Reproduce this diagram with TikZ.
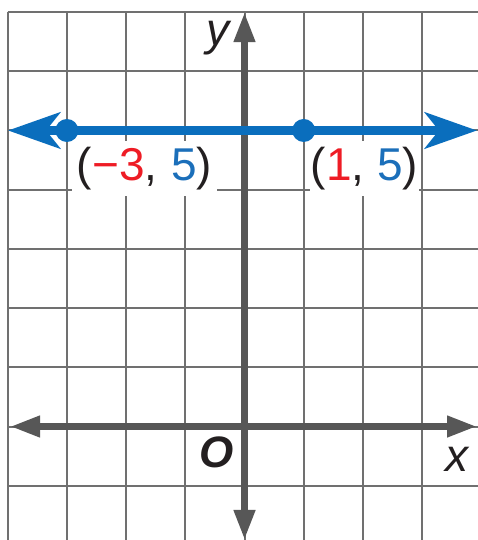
\documentclass[tikz,border=0pt]{standalone}
\usepackage{fontspec}
\setmainfont{Liberation Sans}
\usetikzlibrary{arrows.meta}
\definecolor{gridgray}{HTML}{707070}
\definecolor{axisgray}{HTML}{575757}
\definecolor{lineblue}{HTML}{0A6EBD}
\definecolor{ptred}{HTML}{EE1C25}
\definecolor{ptblue}{HTML}{1B6FBA}
\definecolor{ink}{HTML}{231F20}
\tikzset{
  gridline/.style={gridgray, line width=2pt},
  axisline/.style={axisgray, line width=7pt, -{Triangle[length=30pt,width=20pt]}},
  blueline/.style={lineblue, line width=9pt, {Stealth[length=52pt,width=36pt,inset=14pt]}-{Stealth[length=52pt,width=36pt,inset=14pt]}},
  ptdot/.style={circle, fill=lineblue, inner sep=0pt, minimum size=23pt},
  ptlabel/.style={fill=white, inner sep=0pt, minimum height=55pt, text=ink, font=\fontsize{46}{50}\selectfont},
  axlabel/.style={text=ink, inner sep=0pt, font=\fontsize{46}{50}\selectfont\itshape}
}
\begin{document}
\begin{tikzpicture}[x=59.2pt,y=59.2pt]
\useasboundingbox (-4.130,-1.917) rectangle (3.927,7.204);
\fill[white] (-4.130,-1.917) rectangle (3.927,7.204);
% grid
\foreach \i in {-4,...,3} \draw[gridline] (\i,7) -- (\i,-1.95);
\foreach \j in {-1,...,7} \draw[gridline] (-4,\j) -- (3.95,\j);
% labels with white backgrounds
\node[ptlabel, minimum width=145pt] (lblA) at (-1.689,4.36) {(\textcolor{ptred}{−3},\hspace{0.3em}\textcolor{ptblue}{5})};
\node[ptlabel, minimum width=109pt] (lblB) at (2.027,4.36) {(\textcolor{ptred}{1}, \textcolor{ptblue}{5})};
% axes
\coordinate (xl) at (-3.96,0);
\coordinate (xr) at (3.927,0);
\coordinate (yb) at (0,-1.917);
\coordinate (yt) at (0,7.0);
\draw[axisline] (0,0) -- (xr);
\draw[axisline] (0,0) -- (xl);
\draw[axisline] (0,0) -- (yt);
\draw[axisline] (0,0) -- (yb);
% line y=5
\coordinate (bl) at (-3.995,5);
\coordinate (br) at (3.927,5);
\draw[blueline] (bl) -- (br);
\node[ptdot] (pA) at (-3,5) {};
\node[ptdot] (pB) at (1,5) {};
% axis labels
\node[axlabel] (ylab) at (-0.45,6.56) {y};
\node[axlabel] (xlab) at (3.59,-0.55) {x};
\node[axlabel, font=\fontsize{44}{50}\selectfont\bfseries\itshape] (olab) at (-0.465,-0.44) {O};
\end{tikzpicture}
\end{document}
